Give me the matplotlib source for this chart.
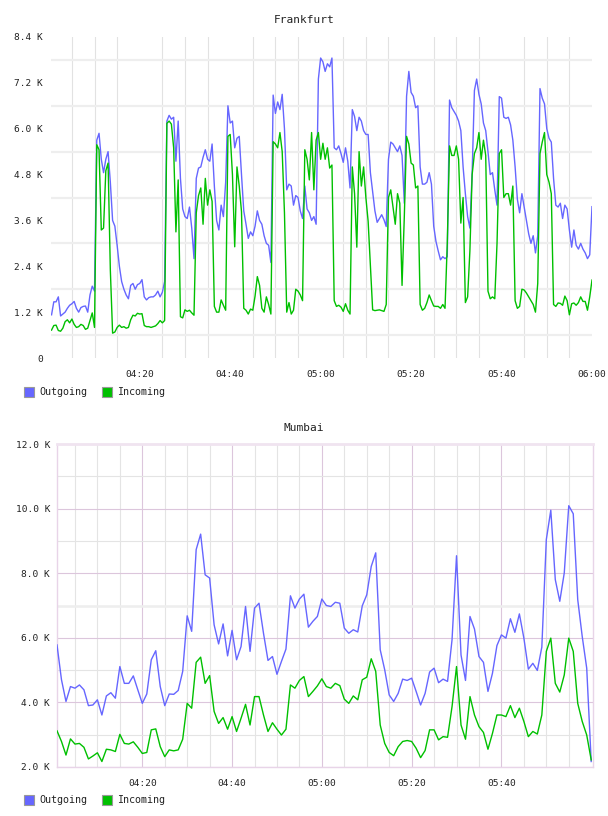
import numpy as np
import matplotlib
matplotlib.use('Agg')
from matplotlib import pyplot as plt
from matplotlib.patches import Rectangle

W, H = 608, 816
BLUE, GREEN = '#6666ff', '#00c000'
plt.rcParams['font.family'] = 'DejaVu Sans Mono'

# ---- Frankfurt: 30 s samples, minutes after 04:00, values in K ----
FRA_MIN = np.arange(1, 241) * 0.5
FRA_OUT = [
    1.13, 1.47, 1.47, 1.6, 1.1, 1.15, 1.2, 1.3, 1.38, 1.42,
    1.48, 1.3, 1.2, 1.32, 1.35, 1.36, 1.2, 1.65, 1.88, 1.75,
    5.7, 5.88, 5.2, 4.85, 5.2, 5.4, 4.6, 3.6, 3.45, 2.95,
    2.4, 2.0, 1.8, 1.65, 1.55, 1.9, 1.95, 1.8, 1.92, 1.95,
    2.05, 1.6, 1.52, 1.58, 1.6, 1.6, 1.65, 1.75, 1.6, 1.72,
    2.0, 6.2, 6.35, 6.25, 6.3, 5.15, 6.2, 4.7, 3.9, 3.7,
    3.65, 3.95, 3.4, 2.6, 4.7, 4.97, 5.0, 5.25, 5.45, 5.2,
    5.15, 5.6, 4.5, 3.6, 3.35, 4.0, 3.7, 4.6, 6.6, 6.15,
    6.2, 5.5, 5.75, 5.8, 4.8, 3.85, 3.5, 3.13, 3.3, 3.2,
    3.45, 3.85, 3.6, 3.5, 3.2, 3.0, 2.95, 2.5, 6.88, 6.4,
    6.7, 6.5, 6.9, 6.0, 4.4, 4.55, 4.5, 4.0, 4.25, 4.2,
    3.85, 3.65, 4.5, 3.9, 3.8, 3.6, 3.7, 3.5, 7.3, 7.85,
    7.75, 7.5, 7.7, 7.62, 7.85, 5.5, 5.45, 5.55, 5.35, 5.12,
    5.5, 5.15, 4.45, 6.5, 6.32, 5.95, 6.3, 6.2, 5.95, 5.85,
    5.85, 4.85, 4.35, 3.85, 3.55, 3.65, 3.75, 3.62, 3.44, 5.2,
    5.65, 5.6, 5.5, 5.4, 5.55, 5.3, 4.05, 6.85, 7.5, 6.95,
    6.85, 6.55, 6.6, 5.0, 4.55, 4.55, 4.6, 4.85, 4.55, 3.45,
    3.05, 2.8, 2.57, 2.65, 2.6, 2.65, 6.75, 6.55, 6.45, 6.35,
    6.2, 5.95, 5.0, 4.3, 3.7, 3.4, 4.85, 7.0, 7.3, 6.9,
    6.65, 6.15, 5.95, 5.4, 4.8, 4.85, 4.4, 4.0, 6.84, 6.8,
    6.3, 6.27, 6.3, 6.1, 5.7, 5.0, 4.15, 3.8, 4.3, 3.95,
    3.6, 3.25, 3.0, 3.2, 2.75, 3.2, 7.05, 6.8, 6.65, 6.0,
    5.75, 5.65, 4.7, 4.0, 3.95, 4.05, 3.65, 4.0, 3.9, 3.35,
    2.9, 3.35, 2.95, 2.85, 3.0, 2.85, 2.75, 2.6, 2.7, 3.96,
]
FRA_IN = [
    0.73, 0.85, 0.86, 0.72, 0.7, 0.78, 0.95, 1.0, 0.92, 1.02,
    0.88, 0.8, 0.82, 0.88, 0.85, 0.75, 0.78, 0.98, 1.18, 0.8,
    5.58, 5.45, 3.35, 3.4, 4.9, 5.1, 2.3, 0.65, 0.68, 0.8,
    0.86, 0.8, 0.82, 0.78, 0.8, 1.0, 1.12, 1.1, 1.17, 1.15,
    1.16, 0.85, 0.82, 0.82, 0.8, 0.82, 0.84, 0.9, 0.98, 0.92,
    0.98, 6.14, 6.2, 6.12, 5.5, 3.3, 4.66, 1.08, 1.05, 1.26,
    1.22, 1.25, 1.18, 1.12, 3.8, 4.25, 4.45, 3.5, 4.7, 4.0,
    4.4, 4.1, 1.35, 1.2, 1.2, 1.52, 1.38, 1.25, 5.8, 5.85,
    4.8, 2.91, 5.0, 4.5, 3.83, 1.3, 1.25, 1.15, 1.28, 1.25,
    1.62, 2.13, 1.9, 1.3, 1.2, 1.6, 1.4, 1.15, 5.66, 5.6,
    5.5, 5.9, 5.4, 3.8, 1.2, 1.45, 1.15, 1.25, 1.8, 1.75,
    1.65, 1.5, 5.45, 5.2, 4.66, 5.9, 4.4, 5.7, 5.9, 5.2,
    5.62, 5.2, 5.5, 4.97, 5.05, 1.5, 1.35, 1.38, 1.33, 1.22,
    1.42, 1.25, 1.15, 5.0, 4.3, 2.9, 5.4, 4.5, 5.0, 4.2,
    3.58, 2.4, 1.26, 1.24, 1.25, 1.26, 1.24, 1.22, 1.4, 4.2,
    4.4, 3.95, 3.5, 4.3, 4.05, 1.9, 3.7, 5.8, 5.6, 5.1,
    5.05, 4.45, 4.5, 1.4, 1.25, 1.3, 1.45, 1.65, 1.5, 1.36,
    1.35, 1.35, 1.3, 1.4, 1.3, 3.0, 5.55, 5.3, 5.3, 5.55,
    5.2, 3.53, 4.2, 1.45, 1.6, 2.8, 4.8, 5.35, 5.5, 5.9,
    5.2, 5.7, 5.3, 1.75, 1.55, 1.6, 1.55, 3.0, 5.35, 5.45,
    4.2, 4.3, 4.3, 4.0, 4.5, 1.5, 1.3, 1.35, 1.8, 1.78,
    1.7, 1.6, 1.5, 1.4, 1.2, 1.95, 5.35, 5.65, 5.9, 4.8,
    4.6, 4.3, 1.4, 1.35, 1.44, 1.43, 1.38, 1.62, 1.5, 1.13,
    1.42, 1.44, 1.38, 1.45, 1.6, 1.48, 1.48, 1.25, 1.6, 2.04,
]
FRA_YTICKS = [0, 1.2, 2.4, 3.6, 4.8, 6.0, 7.2, 8.4]
FRA_YLABELS = ['0', '1.2 K', '2.4 K', '3.6 K', '4.8 K', '6.0 K', '7.2 K', '8.4 K']
FRA_XTICKS = [20, 40, 60, 80, 100, 120]
FRA_XLABELS = ['04:20', '04:40', '05:00', '05:20', '05:40', '06:00']

# ---- Mumbai: 1 min samples, minutes after 04:00, values in K ----
MUM_MIN = np.arange(1, 121)
MUM_OUT = [
    5.78, 4.7, 4.03, 4.49, 4.44, 4.54, 4.39, 3.9, 3.92, 4.08,
    3.61, 4.2, 4.3, 4.13, 5.11, 4.59, 4.59, 4.82, 4.39, 3.97,
    4.26, 5.32, 5.6, 4.49, 3.9, 4.26, 4.25, 4.37, 4.96, 6.68,
    6.2, 8.73, 9.21, 7.95, 7.85, 6.4, 5.81, 6.43, 5.44, 6.23,
    5.32, 5.73, 6.97, 5.58, 6.92, 7.07, 6.14, 5.3, 5.42, 4.87,
    5.27, 5.65, 7.3, 6.92, 7.2, 7.35, 6.33, 6.51, 6.66, 7.2,
    7.0, 6.97, 7.1, 7.07, 6.3, 6.14, 6.25, 6.18, 6.99, 7.33,
    8.21, 8.63, 5.63, 5.01, 4.23, 4.03, 4.28, 4.72, 4.68, 4.75,
    4.34, 3.92, 4.28, 4.94, 5.06, 4.61, 4.72, 4.65, 5.94, 8.54,
    5.47, 4.68, 6.66, 6.27, 5.42, 5.24, 4.34, 4.9, 5.76, 6.09,
    5.99, 6.59, 6.17, 6.74, 5.99, 5.03, 5.21, 4.99, 5.71, 9.04,
    9.95, 7.8, 7.13, 8.01, 10.09, 9.84, 7.18, 6.04, 5.06, 2.17,
]
MUM_IN = [
    3.12, 2.79, 2.37, 2.87, 2.71, 2.73, 2.61, 2.25, 2.34, 2.44,
    2.17, 2.55, 2.53, 2.48, 3.01, 2.73, 2.71, 2.78, 2.61, 2.42,
    2.45, 3.15, 3.18, 2.63, 2.32, 2.53, 2.5, 2.53, 2.86, 3.97,
    3.82, 5.24, 5.4, 4.59, 4.83, 3.72, 3.35, 3.53, 3.17, 3.56,
    3.1, 3.51, 3.94, 3.3, 4.18, 4.18, 3.61, 3.1, 3.37, 3.17,
    2.99, 3.17, 4.54, 4.44, 4.68, 4.8, 4.18, 4.34, 4.51, 4.73,
    4.49, 4.44, 4.59, 4.52, 4.1, 3.97, 4.2, 4.08, 4.7, 4.78,
    5.35, 4.96, 3.3, 2.73, 2.45, 2.35, 2.63, 2.79, 2.82, 2.79,
    2.58, 2.29, 2.51, 3.15, 3.15, 2.84, 2.94, 2.92, 3.87, 5.11,
    3.3, 2.86, 4.18, 3.61, 3.25, 3.07, 2.55, 3.04, 3.61, 3.61,
    3.56, 3.9, 3.53, 3.82, 3.41, 2.94, 3.1, 3.02, 3.61, 5.58,
    5.99, 4.59, 4.32, 4.85, 5.99, 5.58, 3.97, 3.41, 2.99, 2.22,
]
MUM_YTICKS = [2, 4, 6, 8, 10, 12]
MUM_YLABELS = ['2.0 K', '4.0 K', '6.0 K', '8.0 K', '10.0 K', '12.0 K']
MUM_XTICKS = [20, 40, 60, 80, 100]
MUM_XLABELS = ['04:20', '04:40', '05:00', '05:20', '05:40']


def frac(x, y):
    """pixel position -> figure fraction"""
    return x / W, 1 - y / H


def axesPx(fig, left, top, right, bottom):
    return fig.add_axes([left / W, 1 - bottom / H, (right - left) / W, (bottom - top) / H])


def legend(fig, y):
    for x, color, label in [(24, BLUE, 'Outgoing'), (102, GREEN, 'Incoming')]:
        fig.add_artist(Rectangle(frac(x, y + 5), 10 / W, 10 / H, transform=fig.transFigure,
                                 facecolor=color, edgecolor='#999999', lw=0.8))
        fig.text(*frac(x + 15, y), label, fontsize=7.2, va='center', ha='left', color='#222222')


def drawSeries(ax, t, out, inc):
    ax.plot(t, out, color=BLUE, lw=1.0, zorder=3)
    ax.plot(t, inc, color=GREEN, lw=1.0, zorder=3)
    ax.set_axisbelow(True)
    ax.tick_params(which='both', length=0, labelsize=6.8, colors='#222222')


fig = plt.figure(figsize=(W / 100, H / 100), dpi=100)

# ================= Frankfurt =================
ax = axesPx(fig, 51, 37, 592, 358)
drawSeries(ax, FRA_MIN, FRA_OUT, FRA_IN)
ax.set_xlim(0.38, 120)
ax.set_ylim(0, 8.4)
ax.set_yticks(FRA_YTICKS, FRA_YLABELS)
ax.set_yticks(np.arange(0.6, 8.4, 1.2), minor=True)
ax.set_xticks(FRA_XTICKS, FRA_XLABELS)
ax.set_xticks(np.arange(5, 121, 5), minor=True)
ax.grid(True, which='minor', axis='y', color='#eeeeee', lw=1.6)
ax.grid(True, which='minor', axis='x', color='#e2e2e2', lw=0.8)
ax.tick_params(axis='y', pad=6)
ax.tick_params(axis='x', pad=8.5)
for s in ax.spines.values():
    s.set_visible(False)
fig.text(*frac(304, 20), 'Frankfurt', fontsize=8, ha='center', va='center', color='#222222')
legend(fig, 392)

# ================= Mumbai =================
ax2 = axesPx(fig, 57, 444, 593, 767)
drawSeries(ax2, MUM_MIN, MUM_OUT, MUM_IN)
ax2.set_xlim(1, 120.4)
ax2.set_ylim(2, 12)
ax2.set_yticks(MUM_YTICKS, MUM_YLABELS)
ax2.set_yticks(np.arange(3, 12, 2), minor=True)
ax2.set_xticks(MUM_XTICKS, MUM_XLABELS)
ax2.set_xticks(np.arange(5, 120, 5), minor=True)
ax2.grid(True, which='major', color='#dcc6dc', lw=0.8)
ax2.grid(True, which='minor', color='#e4e4e4', lw=0.8)
ax2.axhline(7.0, color='#eeeeee', lw=1.8, zorder=1)
ax2.tick_params(axis='y', pad=5)
ax2.tick_params(axis='x', pad=8.5)
for s in ax2.spines.values():
    s.set_color('#e8d4e8')
    s.set_linewidth(1.0)
ax2.spines['top'].set_linewidth(2.0)
ax2.spines['top'].set_color('#f0e4f0')
fig.text(*frac(304, 428), 'Mumbai', fontsize=8, ha='center', va='center', color='#222222')
legend(fig, 800)

fig.savefig('out.png', dpi=100)
